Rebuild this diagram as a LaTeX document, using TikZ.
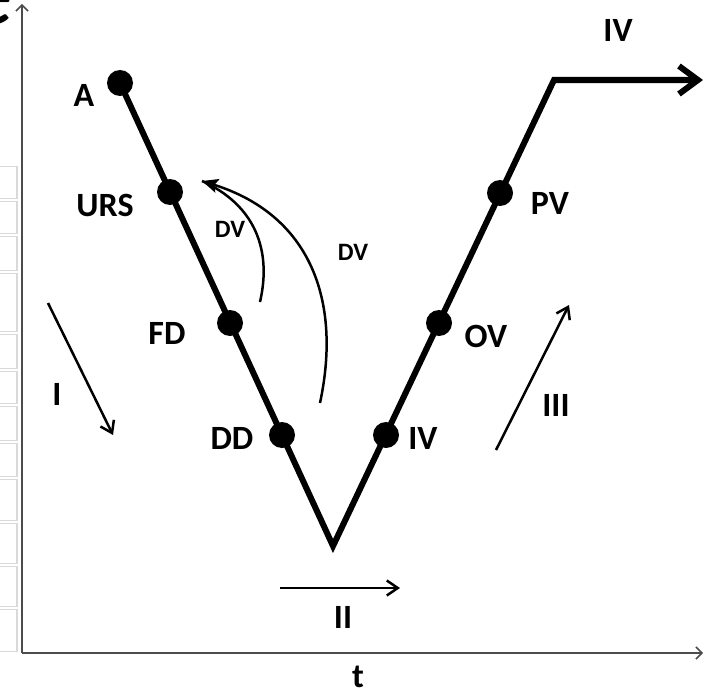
\documentclass[tikz,border=0pt]{standalone}
\usepackage{fontspec}
\setmainfont{Carlito}
\usetikzlibrary{arrows.meta}

\tikzset{
  pt/.style={circle, fill=black, inner sep=0pt, minimum size=26pt},
  lbl/.style={font=\fontsize{34}{38}\selectfont\bfseries, inner sep=0pt},
  smalllbl/.style={font=\fontsize{25}{28}\selectfont\bfseries, inner sep=0pt},
  axis/.style={draw=black!70, line width=1.5pt, -{Straight Barb[length=6pt,width=12pt]}},
  thinarrow/.style={line width=2.5pt, -{Straight Barb[length=11pt,width=15pt]}},
  cell/.style={draw=gray!30, line width=1.2pt}
}

\begin{document}
\begin{tikzpicture}[x=1pt, y=-1pt]
  \useasboundingbox (0,0) rectangle (712,693);

  % Cut-off letter and table cells at the left edge
  \node[anchor=base east, inner sep=0pt, font=\fontsize{92}{92}\selectfont] (cut) at (13,25) {e};
  \foreach \ya/\yb in {165/200,200/235,235/272,272/333,333/370,370/405,405/442,442/478,478/522,522/565,565/608,608/653} {
    \draw[cell] (-3,\ya+1.5) rectangle (17,\yb-1.5);
  }

  % Axes
  \coordinate (o) at (22,653);
  \coordinate (ytop) at (22,4);
  \coordinate (xend) at (703,653);
  \draw[axis] (o) -- (ytop);
  \draw[axis] (o) -- (xend);
  \node[lbl] (t) at (358,677) {t};

  % Points on the V
  \node[pt] (A) at (120,83) {};
  \node[pt] (URS) at (170,192) {};
  \node[pt] (FD) at (230,323) {};
  \node[pt] (DD) at (282,435) {};
  \coordinate (bot) at (333,546);
  \node[pt] (IVpt) at (386,435) {};
  \node[pt] (OV) at (439,323) {};
  \node[pt] (PV) at (500,193) {};
  \coordinate (kink) at (554,80);
  \coordinate (end) at (703,80);
  \draw[line width=6pt, line join=miter, -{Straight Barb[length=19pt,width=28pt]}]
    (A.center) -- (bot) -- (kink) -- (end);

  % Labels of the points
  \node[lbl] (lA) at (84,95) {A};
  \node[lbl] (lURS) at (105,205) {URS};
  \node[lbl] (lFD) at (167,333) {FD};
  \node[lbl] (lDD) at (232,438) {DD};
  \node[lbl] (lIV) at (423,438) {IV};
  \node[lbl] (lOV) at (486,336) {OV};
  \node[lbl] (lPV) at (550,203) {PV};
  \node[lbl] (lIVtop) at (618,30) {IV};

  % DV arcs
  \coordinate (dvtip) at (202,181);
  \coordinate (dvin) at (260,302);
  \coordinate (dvout) at (320,403);
  \draw[line width=2.5pt] (dvin) .. controls (272,250) and (255,205) .. (dvtip);
  \draw[line width=2.5pt, -{Stealth[length=16pt,width=14pt,inset=3pt]}]
    (dvout) .. controls (342,300) and (310,215) .. (dvtip);
  \node[smalllbl] (dv1) at (230,229) {DV};
  \node[smalllbl] (dv2) at (353,252) {DV};

  % Phase arrows
  \coordinate (Is) at (48,303);
  \coordinate (Ie) at (113,435);
  \draw[thinarrow] (Is) -- (Ie);
  \node[lbl] (lI) at (57,394) {I};
  \coordinate (IIs) at (280,588);
  \coordinate (IIe) at (400,588);
  \draw[thinarrow] (IIs) -- (IIe);
  \node[lbl] (lII) at (343,617) {II};
  \coordinate (IIIs) at (496,450);
  \coordinate (IIIe) at (569,305);
  \draw[thinarrow] (IIIs) -- (IIIe);
  \node[lbl] (lIII) at (556,405) {III};
\end{tikzpicture}
\end{document}
